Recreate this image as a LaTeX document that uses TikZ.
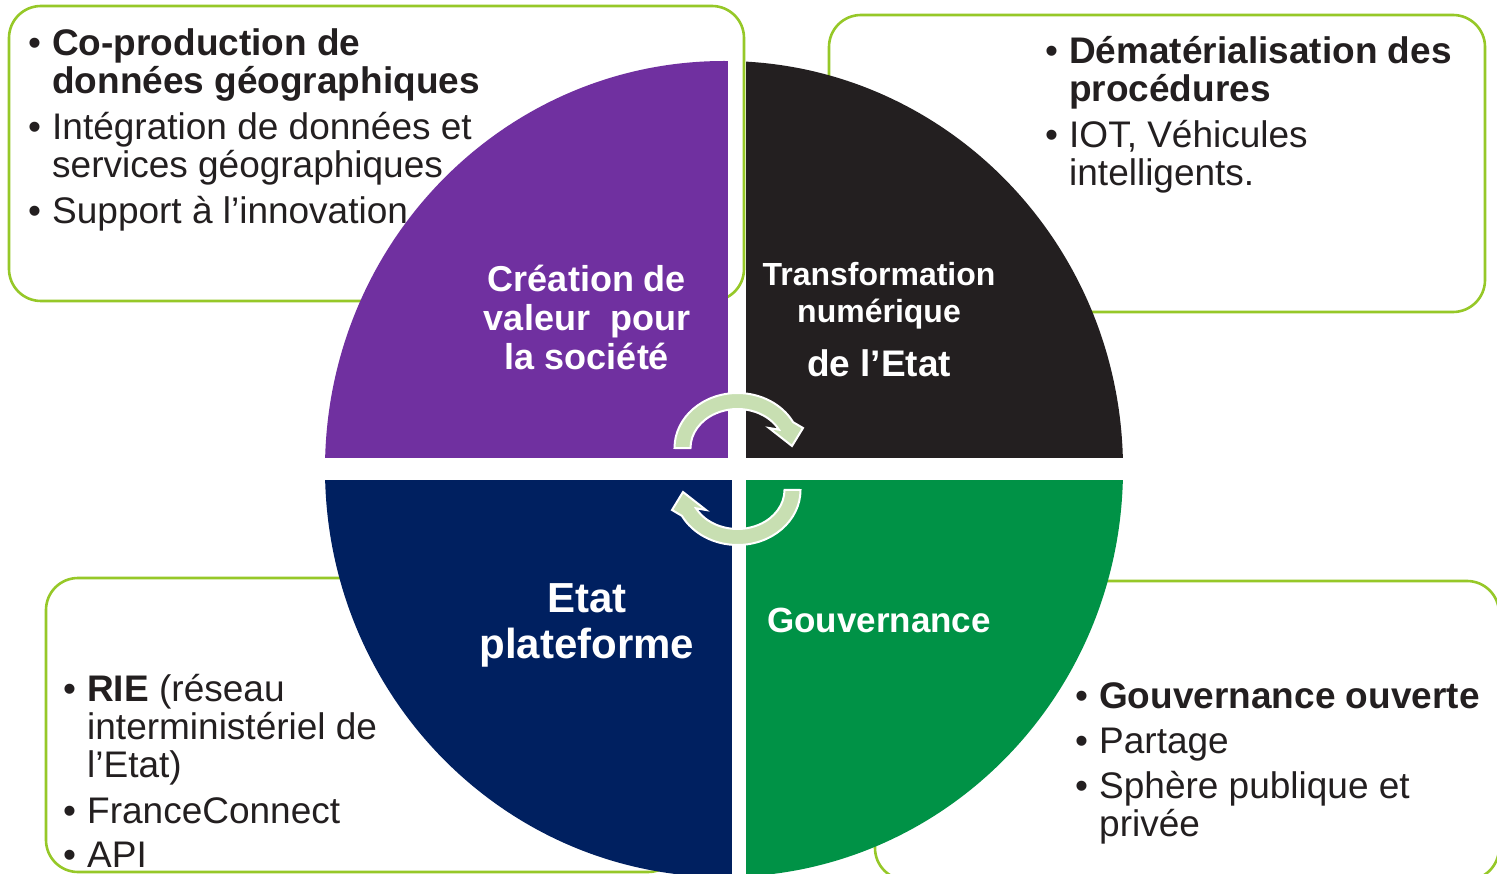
\documentclass[tikz,border=0pt]{standalone}
\usepackage{fontspec}
\setmainfont{Liberation Sans}
\definecolor{boxgreen}{RGB}{150,200,40}
\definecolor{textdark}{RGB}{35,31,32}
\definecolor{qpurple}{RGB}{112,48,160}
\definecolor{qblack}{RGB}{35,31,32}
\definecolor{qnavy}{RGB}{0,32,96}
\definecolor{qgreen}{RGB}{0,146,70}
\definecolor{cycgreen}{RGB}{200,223,178}
\newcommand\bitem[4]{%
  \node[txt] (#1b) at (#2-24,#3) {\textbullet};
  \node[txt] (#1) at (#2,#3) {\parbox[t]{700pt}{\raggedright #4}};
}
\begin{document}
\begin{tikzpicture}[x=1pt,y=-1pt,
  box/.style={draw=boxgreen, line width=2.6pt, rounded corners=32pt},
  txt/.style={inner sep=0pt, anchor=base west, text=textdark, font=\fontsize{37}{38}\selectfont},
  lbl/.style={inner sep=0pt, anchor=base, text=white},
  cyc/.style={fill=cycgreen, draw=white, line width=2pt, line join=miter}]
\useasboundingbox (0,0) rectangle (1497,874);
\fill[white] (0,0) rectangle (1497,874);
% boxes
\draw[box] (9,6) rectangle (744,301);
\draw[box] (829,15) rectangle (1485,312);
\draw[box] (46,578) rectangle (680,872);
\draw[box] (875,581) rectangle (1499,880);
% box texts
\bitem{tla}{52}{56}{\textbf{Co-production de\\données géographiques}}
\bitem{tlb}{52}{140}{Intégration de données et\\services géographiques}
\bitem{tlc}{52}{224}{Support à l’innovation}
\bitem{tra}{1069}{64}{\textbf{Dématérialisation des\\procédures}}
\bitem{trb}{1069}{148}{IOT, Véhicules\\intelligents.}
\bitem{bla}{87}{701}{\textbf{RIE} (réseau\\interministériel de\\l’Etat)}
\bitem{blb}{87}{823}{FranceConnect}
\bitem{blc}{87}{867}{API}
\bitem{bra}{1099}{708}{\textbf{Gouvernance ouverte}}
\bitem{brb}{1099}{753}{Partage}
\bitem{brc}{1099}{798}{Sphère publique et\\privée}
% quadrants
\begin{scope}
\clip (724,469) ellipse [x radius=399, y radius=408];
\fill[qpurple] (300,40) rectangle (728,458);
\fill[qblack] (746,40) rectangle (1150,458);
\fill[qnavy] (300,480) rectangle (732,900);
\fill[qgreen] (746,480) rectangle (1150,900);
\end{scope}
% quadrant labels
\node[lbl, font=\bfseries\fontsize{36}{39}\selectfont] (creation) at (587,292)
  {\parbox[t]{320pt}{\centering Création de\\valeur\ \ pour\\la société}};
\node[lbl, font=\bfseries\fontsize{32}{37}\selectfont] (transfo) at (879,286)
  {\parbox[t]{320pt}{\centering Transformation\\numérique}};
\node[lbl, font=\bfseries\fontsize{37}{40}\selectfont] (etat) at (879,377) {de l’Etat};
\node[lbl, font=\bfseries\fontsize{42}{46}\selectfont] (plateforme) at (587,612)
  {\parbox[t]{320pt}{\centering Etat\\plateforme}};
\node[lbl, font=\bfseries\fontsize{35}{40}\selectfont] (gouv) at (879,632) {Gouvernance};
% cycle arrows
\path[cyc] (674.5,448) arc[start angle=180, end angle=332, x radius=63, y radius=55]
  -- (803,428) -- (792,446) -- (769,428) -- (779.0,429.7)
  arc[start angle=332, end angle=180, x radius=47, y radius=39] -- cycle;
\path[cyc] (800.5,490) arc[start angle=0, end angle=152, x radius=63, y radius=55]
  -- (672,510) -- (683,492) -- (706,510) -- (696.0,508.3)
  arc[start angle=152, end angle=0, x radius=47, y radius=39] -- cycle;
\end{tikzpicture}
\end{document}
